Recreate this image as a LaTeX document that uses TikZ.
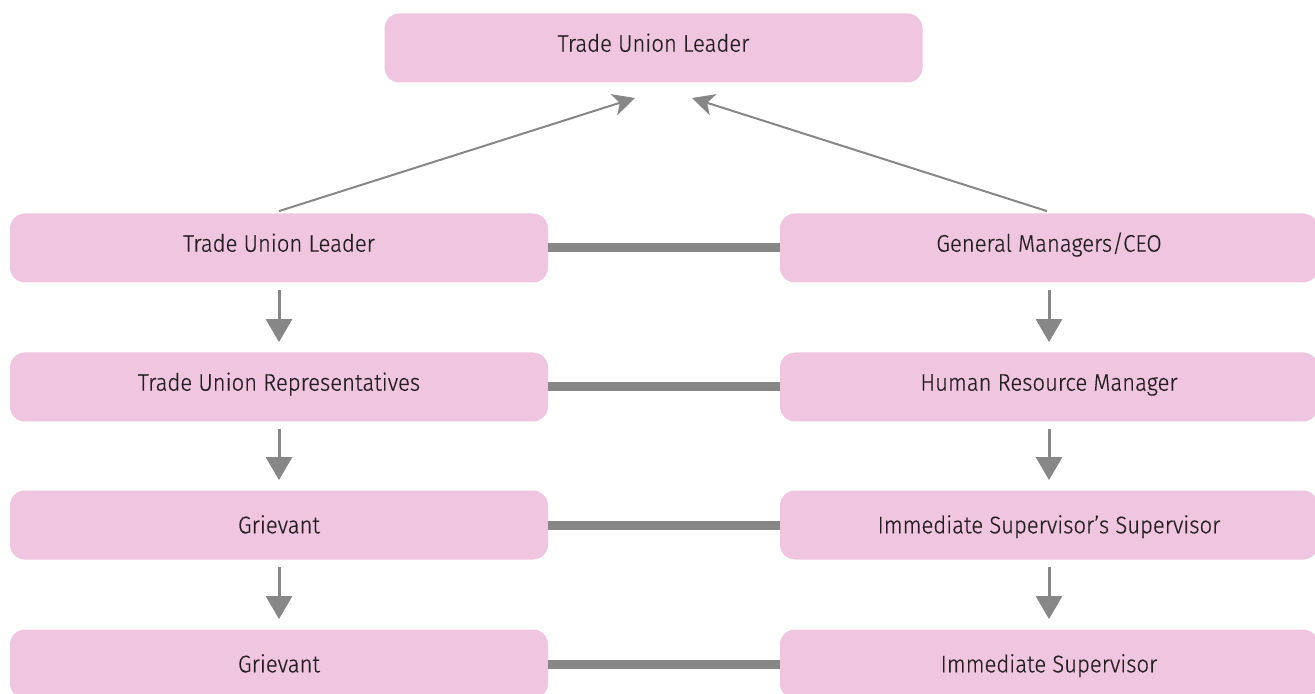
\documentclass[tikz,border=0pt]{standalone}
\usepackage{fontspec}
\setmainfont{Fira Sans Light}[FakeStretch=0.92, FakeBold=0.4]
\usetikzlibrary{arrows.meta}
\definecolor{boxpink}{HTML}{EFC5DF}
\definecolor{linegray}{HTML}{878787}
\definecolor{textdark}{HTML}{231F20}
\tikzset{
  box/.style={shape=rectangle, fill=boxpink, draw=none, rounded corners=7.5pt,
    minimum width=269pt, minimum height=34.5pt, inner sep=0pt,
    text height=8.3pt, text depth=0pt,
    text=textdark, font=\fontsize{12}{14}\selectfont},
  raised/.style={text depth=4.6pt},
  down/.style={draw=linegray, line width=1.5pt, -{Triangle[length=11.5pt, width=13pt]},
    shorten <=3.5pt, shorten >=5pt},
  diag/.style={draw=linegray, line width=1pt, -{Stealth[length=11pt, width=11pt, inset=3pt]}},
  bar/.style={draw=linegray, line width=4.5pt}
}
\begin{document}
\begin{tikzpicture}[x=0.5pt, y=-0.5pt]
\useasboundingbox (0,0) rectangle (1315,694);
\node[box, raised] (top) at (653.5,48) {Trade Union Leader};
\node[box, raised] (l1) at (279,248) {Trade Union Leader};
\node[box, raised] (l2) at (279,387) {Trade Union Representatives};
\node[box] (l3) at (279,525) {Grievant};
\node[box] (l4) at (279,664) {Grievant};
\node[box, raised] (r1) at (1049,248) {General Managers/CEO};
\node[box, raised] (r2) at (1049,387) {Human Resource Manager};
\node[box] (r3) at (1049,525) {Immediate Supervisor’s Supervisor};
\node[box] (r4) at (1049,664) {Immediate Supervisor};
\coordinate (tipl) at (635,98);
\coordinate (tipr) at (692,98);
\draw[diag] ([yshift=1pt]l1.north) -- (tipl);
\draw[diag] ([xshift=-1pt,yshift=1pt]r1.north) -- (tipr);
\draw[down] (l1) -- (l2);
\draw[down] (l2) -- (l3);
\draw[down] (l3) -- (l4);
\draw[down] (r1) -- (r2);
\draw[down] (r2) -- (r3);
\draw[down] (r3) -- (r4);
\draw[bar] (l1) -- (r1);
\draw[bar] (l2) -- (r2);
\draw[bar] (l3) -- (r3);
\draw[bar] (l4) -- (r4);
\end{tikzpicture}
\end{document}
